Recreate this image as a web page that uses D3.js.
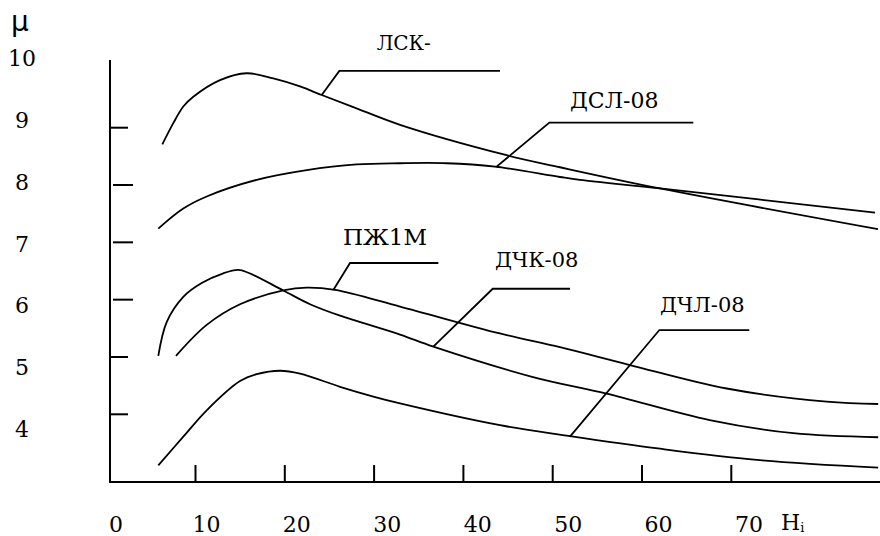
<!DOCTYPE html>
<html>
<head>
<meta charset="utf-8">
<script src="https://cdn.jsdelivr.net/npm/d3@7"></script>
<style>
  html,body{margin:0;padding:0;background:#fff;}
  svg{display:block;}
  svg text{font-family:'DejaVu Serif','Liberation Serif',serif;}
</style>
</head>
<body>
<svg id="chart" width="880" height="536"></svg>
<script>
// ---- данные --------------------------------------------------------------
const xTicks  = [10,20,30,40,50,60,70];
const xLabels = [0,10,20,30,40,50,60,70];
const yTicks  = [4,5,6,7,8,9];
const yLabels = [4,5,6,7,8,9,10];
const yShifted = [6,7,8];            // эти штрихи в оригинале отодвинуты от оси

const lsk = [[6.34,8.71],[7.57,9.08],[8.69,9.37],[9.81,9.54],[12.8,9.83],[15.79,9.95],
  [18.77,9.86],[21.76,9.72],[24.19,9.57],[27.73,9.36],[32.96,9.05],[44.9,8.52],[50.87,8.31],
  [62.07,7.94],[86.48,7.23]];
const dsl = [[5.89,7.24],[8.69,7.59],[11.31,7.80],[16.91,8.09],[22.51,8.26],[28.11,8.36],
  [32.96,8.38],[38.19,8.38],[43.6,8.32],[50.87,8.14],[53.11,8.09],[62.07,7.94],[86.15,7.52]];
const dchk = [[5.89,5.02],[6.83,5.61],[8.69,6.05],[10.75,6.29],[13.17,6.46],[14.85,6.52],
  [15.97,6.47],[19.89,6.16],[22.88,5.92],[26.24,5.72],[32.96,5.39],[36.69,5.18],
  [47.85,4.65],[56.1,4.36],[67.64,3.90],[77.0,3.67],[86.5,3.60]];
const pzh = [[7.87,5.02],[11.31,5.56],[15.04,5.92],[19.89,6.16],[22.51,6.21],[25.68,6.17],
  [32.96,5.88],[44.15,5.41],[50.87,5.17],[58.7,4.86],[69.54,4.45],[80.74,4.22],[86.5,4.18]];
const dchl = [[5.89,3.11],[8.69,3.61],[11.31,4.07],[15.04,4.58],[16.91,4.70],[19.52,4.76],
  [21.76,4.71],[26.24,4.48],[29.97,4.31],[32.96,4.19],[44.15,3.81],[51.99,3.62],
  [62.07,3.40],[73.27,3.20],[86.5,3.07]];

// выноски: точка на кривой -> излом -> конец полки ; подпись
const labels = [
  {name:'ЛСК-',   pts:[[24.19,9.57],[26.16,9.99],[44.15,9.99]], at:[30.34,10.35], size:20},
  {name:'ДСЛ-08', pts:[[43.78,8.32],[49.68,9.09],[65.8,9.09]],  at:[51.99,9.34],  size:22},
  {name:'ПЖ1М',   pts:[[25.49,6.17],[27.36,6.64],[37.25,6.64]], at:[26.57,6.95],  size:23},
  {name:'ДЧК-08', pts:[[36.69,5.18],[43.34,6.19],[51.99,6.19]], at:[43.6,6.57],   size:21},
  {name:'ДЧЛ-08', pts:[[51.99,3.61],[62.0,5.47],[72.07,5.47]],  at:[62.07,5.79],  size:21}
];

// ---- размеры и шкалы -----------------------------------------------------
const svg = d3.select('#chart');
const AX = 110, AY = 482, TOP = 60, RIGHT = 880;

const x = d3.scaleLinear().domain([0,80]).range([105.7,820.1]);
const y = d3.scaleLinear().domain([4,9]).range([414.3,127.7]);
const xLab = d3.scaleLinear().domain([0,70]).range([116,749]);
const yLab = d3.scaleLinear().domain([4,10]).range([429,58]);

// ---- оси -----------------------------------------------------------------
const axes = svg.append('g').attr('stroke','#000').attr('stroke-width',2);
axes.append('line').attr('x1',AX).attr('x2',AX).attr('y1',TOP).attr('y2',AY+1);
axes.append('line').attr('x1',AX-1).attr('x2',RIGHT).attr('y1',AY).attr('y2',AY);

svg.append('g')
  .attr('transform',`translate(0,${AY})`)
  .call(d3.axisBottom(x).tickValues(xTicks).tickSize(-17).tickFormat(''))
  .call(g=>g.select('.domain').remove())
  .selectAll('line').attr('stroke-width',2);

svg.append('g').selectAll('line').data(yTicks).join('line')
  .attr('x1',d=>yShifted.includes(d)?AX+3:AX)
  .attr('x2',d=>yShifted.includes(d)?AX+23:AX+18)
  .attr('y1',d=>y(d)).attr('y2',d=>y(d))
  .attr('stroke','#000').attr('stroke-width',2);

svg.append('g').selectAll('text').data(xLabels).join('text')
  .attr('x',d=>xLab(d)).attr('y',532)
  .attr('text-anchor','middle').attr('font-size',22)
  .text(d=>d);

svg.append('g').selectAll('text').data(yLabels).join('text')
  .attr('x',22).attr('y',d=>yLab(d)+8)
  .attr('text-anchor','middle').attr('font-size',22)
  .text(d=>d);

svg.append('text').attr('x',11).attr('y',31)
  .style('font-family','"DejaVu Sans",sans-serif').attr('font-size',28).text('μ');

const hl = svg.append('text').attr('x',781).attr('y',530).attr('font-size',22);
hl.append('tspan').text('H');
hl.append('tspan').attr('font-size',13).attr('dy',2).text('i');

// ---- кривые --------------------------------------------------------------
const line = d3.line().x(d=>x(d[0])).y(d=>y(d[1])).curve(d3.curveCatmullRom.alpha(0.5));
svg.append('g').selectAll('path').data([lsk,dsl,dchk,pzh,dchl]).join('path')
  .attr('d',line).attr('fill','none').attr('stroke','#000').attr('stroke-width',1.8);

// ---- выноски -------------------------------------------------------------
const lead = d3.line().x(d=>x(d[0])).y(d=>y(d[1]));
const lg = svg.append('g');
lg.selectAll('path').data(labels).join('path')
  .attr('d',d=>lead(d.pts)).attr('fill','none').attr('stroke','#000').attr('stroke-width',1.8);
lg.selectAll('text').data(labels).join('text')
  .attr('x',d=>x(d.at[0])).attr('y',d=>y(d.at[1]))
  .attr('font-size',d=>d.size)
  .text(d=>d.name);
</script>
</body>
</html>
